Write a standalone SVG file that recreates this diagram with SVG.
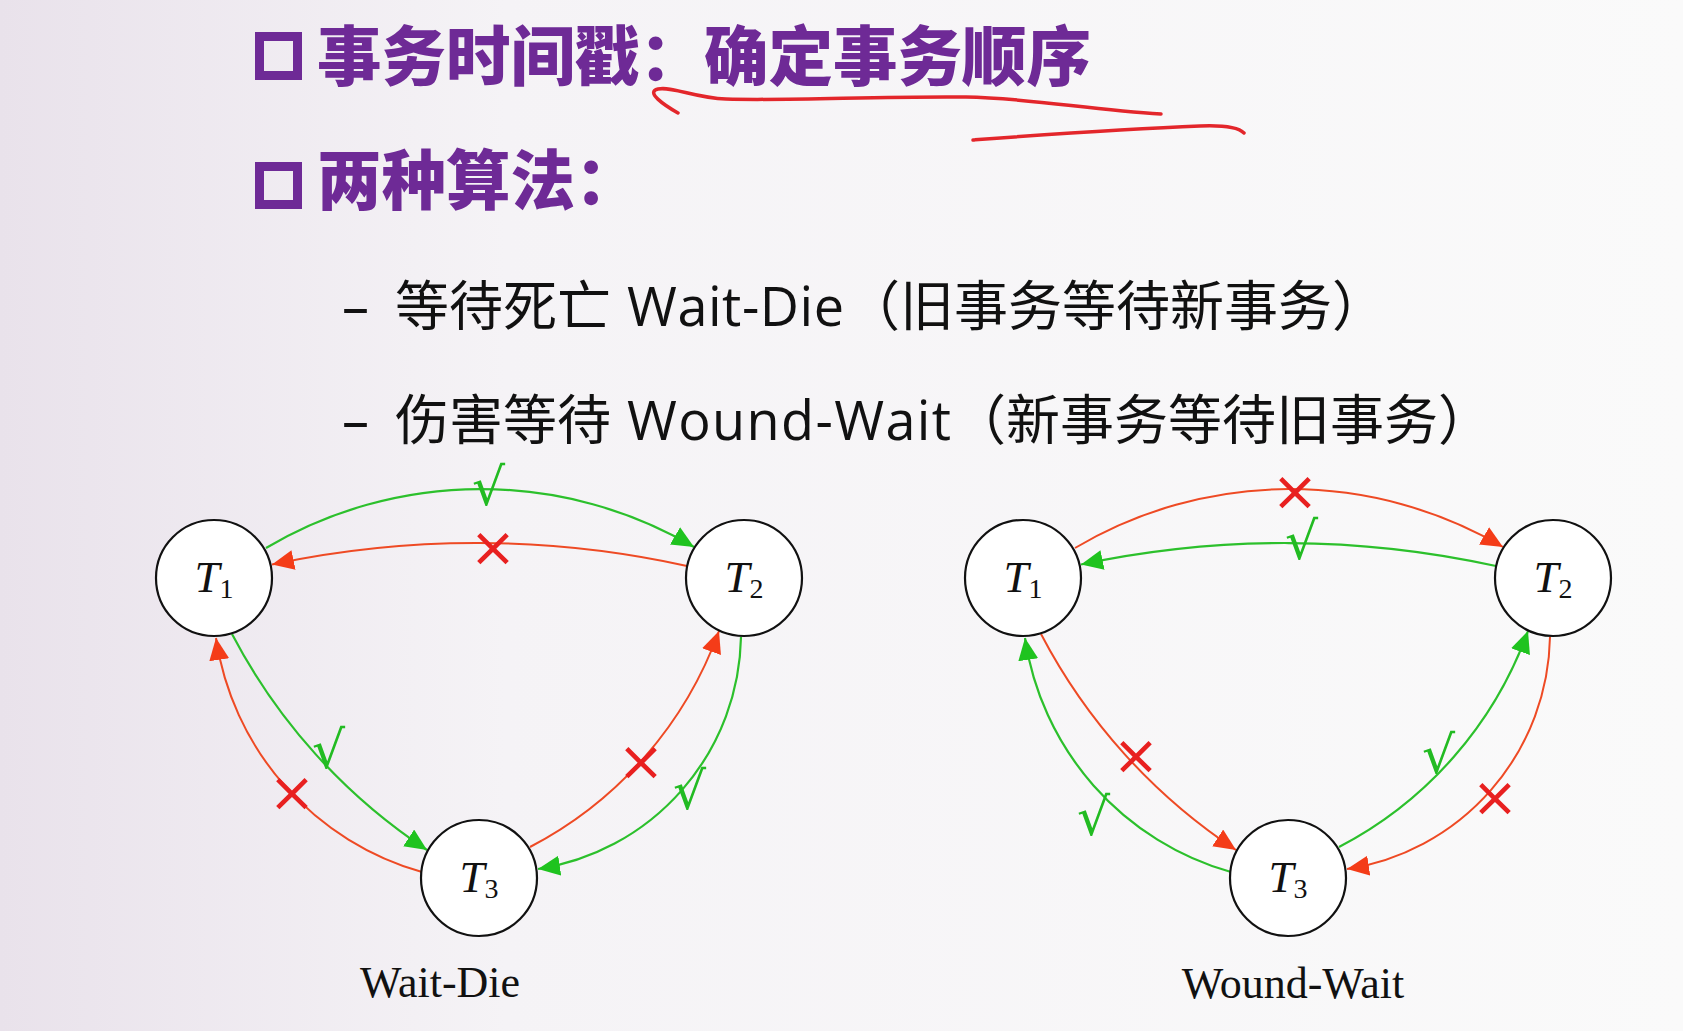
<svg xmlns="http://www.w3.org/2000/svg" width="1683" height="1031" viewBox="0 0 1683 1031">
<defs>
  <linearGradient id="bg" x1="0" y1="0" x2="1" y2="0">
    <stop offset="0" stop-color="#E9E2EB"/>
    <stop offset="0.3" stop-color="#F5F3F6"/>
    <stop offset="1" stop-color="#FAFAFA"/>
  </linearGradient>
  <marker id="ahG" markerUnits="userSpaceOnUse" markerWidth="24" markerHeight="22" refX="22" refY="10" orient="auto">
    <path d="M0,0 L22,10 L0,20 Z" fill="#1FC31F"/>
  </marker>
  <marker id="ahR" markerUnits="userSpaceOnUse" markerWidth="24" markerHeight="22" refX="22" refY="10" orient="auto">
    <path d="M0,0 L22,10 L0,20 Z" fill="#F43C18"/>
  </marker>
  <style>
    .title { font-family: "Noto Sans CJK SC", sans-serif; font-weight: 900; font-size: 64.5px; fill: #6E2A96; }
    .sub { font-family: "Open Sans", "Noto Sans CJK SC", sans-serif; font-size: 54px; fill: #111; }
    .bullet { fill: none; stroke: #6E2A96; stroke-width: 9; }
    .ink { fill: none; stroke: #E3262B; stroke-width: 3.5; stroke-linecap: round; stroke-linejoin: round; }
    .node circle { fill: #FFFFFF; stroke: #111; stroke-width: 2.2; }
    .nlabel { font-family: "Liberation Serif", serif; font-size: 45px; fill: #111; }
    .nlabel .v { font-style: italic; }
    .nlabel .s { font-size: 28px; }
    .eg { fill: none; stroke: #2CC02C; stroke-width: 2.2; marker-end: url(#ahG); }
    .er { fill: none; stroke: #EE4A24; stroke-width: 2; marker-end: url(#ahR); }
    .ok { font-family: "DejaVu Sans", sans-serif; font-size: 52px; fill: #22BB22; }
    .no { font-family: "DejaVu Sans", sans-serif; font-size: 56px; fill: #E82020; text-anchor: middle; }
    .cap { font-family: "Liberation Serif", serif; font-size: 44px; fill: #111; text-anchor: middle; }
  </style>
</defs>
<rect x="0" y="0" width="1683" height="1031" fill="url(#bg)"/>

<g id="heading">
  <rect class="bullet" x="259.5" y="36.5" width="38" height="39"/>
  <text class="title" x="317" y="80">事务时间戳：确定事务顺序</text>
  <rect class="bullet" x="259.5" y="166.5" width="38" height="38"/>
  <text class="title" x="317" y="204">两种算法：</text>
</g>

<g id="handwriting">
  <path class="ink" d="M678,113 C664,105 645,92 658,89 C672,86 695,98 726,99 C790,101 880,96 966,97 C1030,98 1090,110 1161,114"/>
  <path class="ink" d="M973,140 C1040,135 1120,129 1200,126 C1225,125 1238,127 1244,133"/>
</g>

<g id="algorithms">
  <text class="sub" y="326"><tspan x="342">–</tspan><tspan x="395">等待死亡</tspan><tspan x="627" textLength="217">Wait-Die</tspan><tspan x="846">（旧事务等待新事务）</tspan></text>
  <text class="sub" y="440"><tspan x="342">–</tspan><tspan x="395">伤害等待</tspan><tspan x="627" textLength="324">Wound-Wait</tspan><tspan x="952">（新事务等待旧事务）</tspan></text>
</g>

<g id="connectors">
  <!-- Wait-Die -->
  <path id="wd-e12" class="eg" d="M266,548 A421,421 0 0 1 694,547"/>
  <path id="wd-e21" class="er" d="M687,566 A980,980 0 0 0 272,564.5"/>
  <path id="wd-e13" class="eg" d="M232,634 A582,582 0 0 0 427,850"/>
  <path id="wd-e31" class="er" d="M422,872 A287,287 0 0 1 216,638"/>
  <path id="wd-e32" class="er" d="M530,847 A394,394 0 0 0 719,631"/>
  <path id="wd-e23" class="eg" d="M741,637 A239,239 0 0 1 538,869"/>
  <!-- Wound-Wait -->
  <path id="ww-e12" class="er" d="M1075,548 A421,421 0 0 1 1503,547"/>
  <path id="ww-e21" class="eg" d="M1496,566 A980,980 0 0 0 1081,564.5"/>
  <path id="ww-e13" class="er" d="M1041,634 A582,582 0 0 0 1236,850"/>
  <path id="ww-e31" class="eg" d="M1231,872 A287,287 0 0 1 1025,638"/>
  <path id="ww-e32" class="eg" d="M1339,847 A394,394 0 0 0 1528,631"/>
  <path id="ww-e23" class="er" d="M1550,637 A239,239 0 0 1 1347,869"/>
</g>

<g id="edge-marks">
  <text class="ok" x="472" y="505">√</text>
  <text class="no" x="493" y="566">×</text>
  <text class="ok" x="312" y="768">√</text>
  <text class="no" x="292" y="811">×</text>
  <text class="no" x="641" y="780">×</text>
  <text class="ok" x="673" y="809">√</text>

  <text class="no" x="1295" y="510">×</text>
  <text class="ok" x="1285" y="559">√</text>
  <text class="no" x="1136" y="774">×</text>
  <text class="ok" x="1077" y="835">√</text>
  <text class="ok" x="1422" y="773">√</text>
  <text class="no" x="1495" y="816">×</text>
</g>

<g id="wd-T1" class="node"><circle cx="214" cy="578" r="58"/><text class="nlabel" x="214" y="592" text-anchor="middle"><tspan class="v">T</tspan><tspan class="s" dy="6">1</tspan></text></g>
<g id="wd-T2" class="node"><circle cx="744" cy="578" r="58"/><text class="nlabel" x="744" y="592" text-anchor="middle"><tspan class="v">T</tspan><tspan class="s" dy="6">2</tspan></text></g>
<g id="wd-T3" class="node"><circle cx="479" cy="878" r="58"/><text class="nlabel" x="479" y="892" text-anchor="middle"><tspan class="v">T</tspan><tspan class="s" dy="6">3</tspan></text></g>
<g id="ww-T1" class="node"><circle cx="1023" cy="578" r="58"/><text class="nlabel" x="1023" y="592" text-anchor="middle"><tspan class="v">T</tspan><tspan class="s" dy="6">1</tspan></text></g>
<g id="ww-T2" class="node"><circle cx="1553" cy="578" r="58"/><text class="nlabel" x="1553" y="592" text-anchor="middle"><tspan class="v">T</tspan><tspan class="s" dy="6">2</tspan></text></g>
<g id="ww-T3" class="node"><circle cx="1288" cy="878" r="58"/><text class="nlabel" x="1288" y="892" text-anchor="middle"><tspan class="v">T</tspan><tspan class="s" dy="6">3</tspan></text></g>

<g id="captions">
  <text class="cap" x="440" y="997">Wait-Die</text>
  <text class="cap" x="1293" y="998">Wound-Wait</text>
</g>
</svg>
